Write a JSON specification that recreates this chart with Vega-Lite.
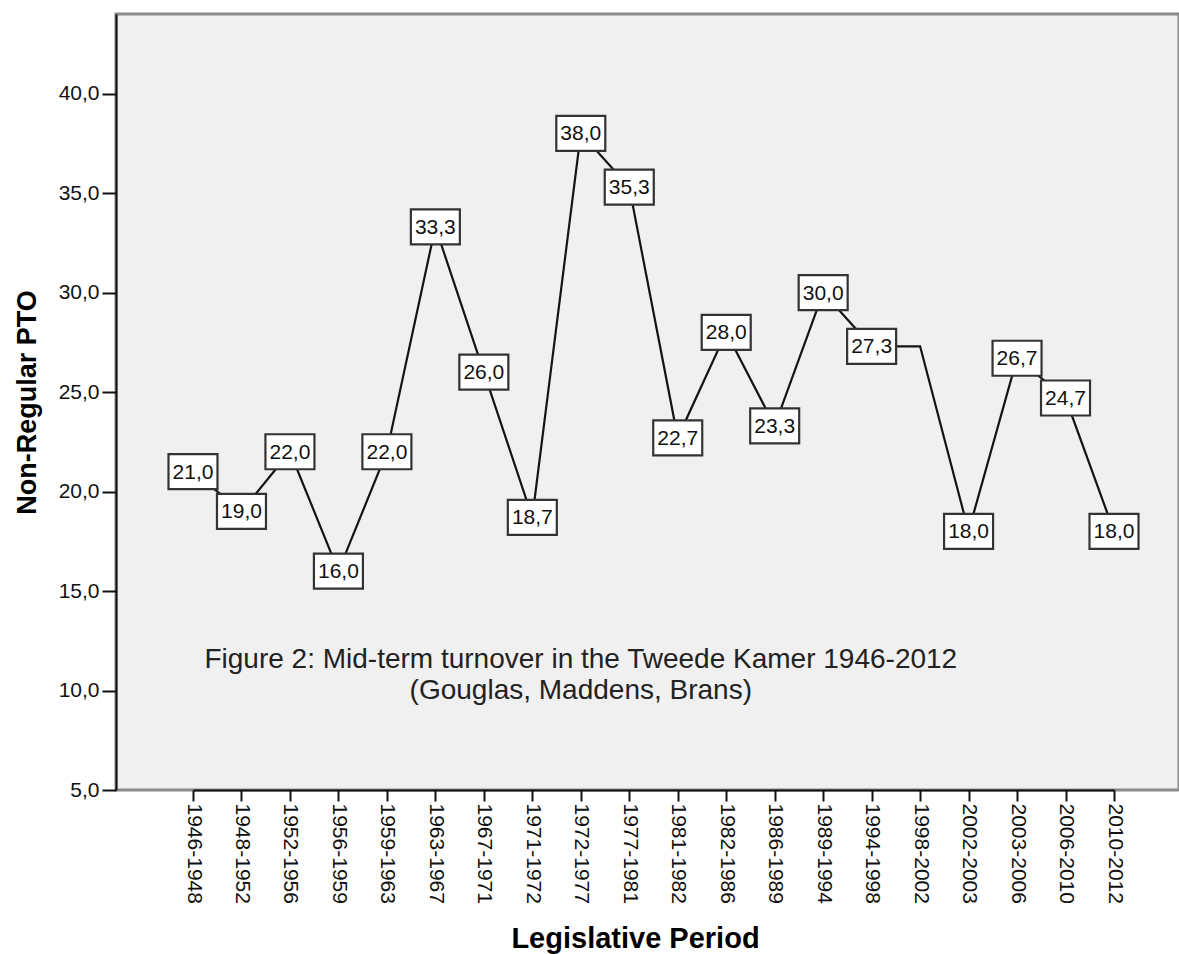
{
  "$schema": "https://vega.github.io/schema/vega-lite/v6.json",
  "width": 1063,
  "height": 776,
  "autosize": {"type": "none"},
  "padding": {"left": 116, "top": 14, "right": 0, "bottom": 164},
  "background": "white",
  "config": {
    "font": "Liberation Sans",
    "view": {"fill": "#f0f0f0", "stroke": "#8a8a8a", "strokeWidth": 3},
    "locale": {"number": {"decimal": ",", "thousands": ".", "grouping": [3], "currency": ["", " €"]}}
  },
  "data": {
    "values": [
      {"period": "1946-1948", "pto": 21.0},
      {"period": "1948-1952", "pto": 19.0},
      {"period": "1952-1956", "pto": 22.0},
      {"period": "1956-1959", "pto": 16.0},
      {"period": "1959-1963", "pto": 22.0},
      {"period": "1963-1967", "pto": 33.3},
      {"period": "1967-1971", "pto": 26.0},
      {"period": "1971-1972", "pto": 18.7},
      {"period": "1972-1977", "pto": 38.0},
      {"period": "1977-1981", "pto": 35.3},
      {"period": "1981-1982", "pto": 22.7},
      {"period": "1982-1986", "pto": 28.0},
      {"period": "1986-1989", "pto": 23.3},
      {"period": "1989-1994", "pto": 30.0},
      {"period": "1994-1998", "pto": 27.3},
      {"period": "1998-2002", "pto": 27.3},
      {"period": "2002-2003", "pto": 18.0},
      {"period": "2003-2006", "pto": 26.7},
      {"period": "2006-2010", "pto": 24.7},
      {"period": "2010-2012", "pto": 18.0}
    ]
  },
  "layer": [
    {
      "mark": {"type": "line", "color": "#141414", "strokeWidth": 2.2},
      "encoding": {
        "x": {
          "field": "period", "type": "ordinal", "sort": null,
          "scale": {"type": "point", "padding": 0, "range": [77, 998]},
          "axis": {
            "title": "Legislative Period",
            "labelAngle": 90,
            "labelFontSize": 21,
            "labelColor": "#111",
            "labelPadding": 2,
            "tickSize": 11,
            "tickWidth": 2,
            "tickColor": "#111",
            "domainColor": "#111",
            "domainWidth": 2,
            "grid": false,
            "titleFontSize": 29,
            "titleFontWeight": "bold",
            "titleColor": "#000",
            "titlePadding": 21,
            "titleX": 519
          }
        },
        "y": {
          "field": "pto", "type": "quantitative",
          "scale": {"domain": [5, 44], "nice": false, "zero": false},
          "axis": {
            "title": "Non-Regular PTO",
            "values": [5, 10, 15, 20, 25, 30, 35, 40],
            "format": ".1f",
            "labelFontSize": 21,
            "labelColor": "#111",
            "labelPadding": 3,
            "tickSize": 14,
            "tickWidth": 2,
            "tickColor": "#111",
            "domainColor": "#111",
            "domainWidth": 2,
            "grid": false,
            "titleFontSize": 27,
            "titleFontWeight": "bold",
            "titleColor": "#000",
            "titlePadding": 17
          }
        }
      }
    },
    {
      "transform": [{"filter": "datum.period !== '1998-2002'"}],
      "mark": {"type": "rect", "width": 49, "height": 35, "fill": "white", "stroke": "#333", "strokeWidth": 2.2},
      "encoding": {
        "x": {"field": "period", "type": "ordinal", "sort": null},
        "y": {"field": "pto", "type": "quantitative"}
      }
    },
    {
      "transform": [{"filter": "datum.period !== '1998-2002'"}],
      "mark": {"type": "text", "fontSize": 21, "color": "#111", "align": "center", "baseline": "middle", "dy": 1},
      "encoding": {
        "x": {"field": "period", "type": "ordinal", "sort": null},
        "y": {"field": "pto", "type": "quantitative"},
        "text": {"field": "pto", "type": "quantitative", "format": ".1f"}
      }
    },
    {
      "data": {"values": [{"note": "Figure 2"}]},
      "mark": {
        "type": "text",
        "text": ["Figure 2: Mid-term turnover in the Tweede Kamer 1946-2012", "(Gouglas, Maddens, Brans)"],
        "fontSize": 28,
        "lineHeight": 31,
        "align": "center",
        "baseline": "alphabetic",
        "color": "#222"
      },
      "encoding": {
        "x": {"datum": "1972-1977"},
        "y": {"datum": 11.15}
      }
    }
  ]
}
